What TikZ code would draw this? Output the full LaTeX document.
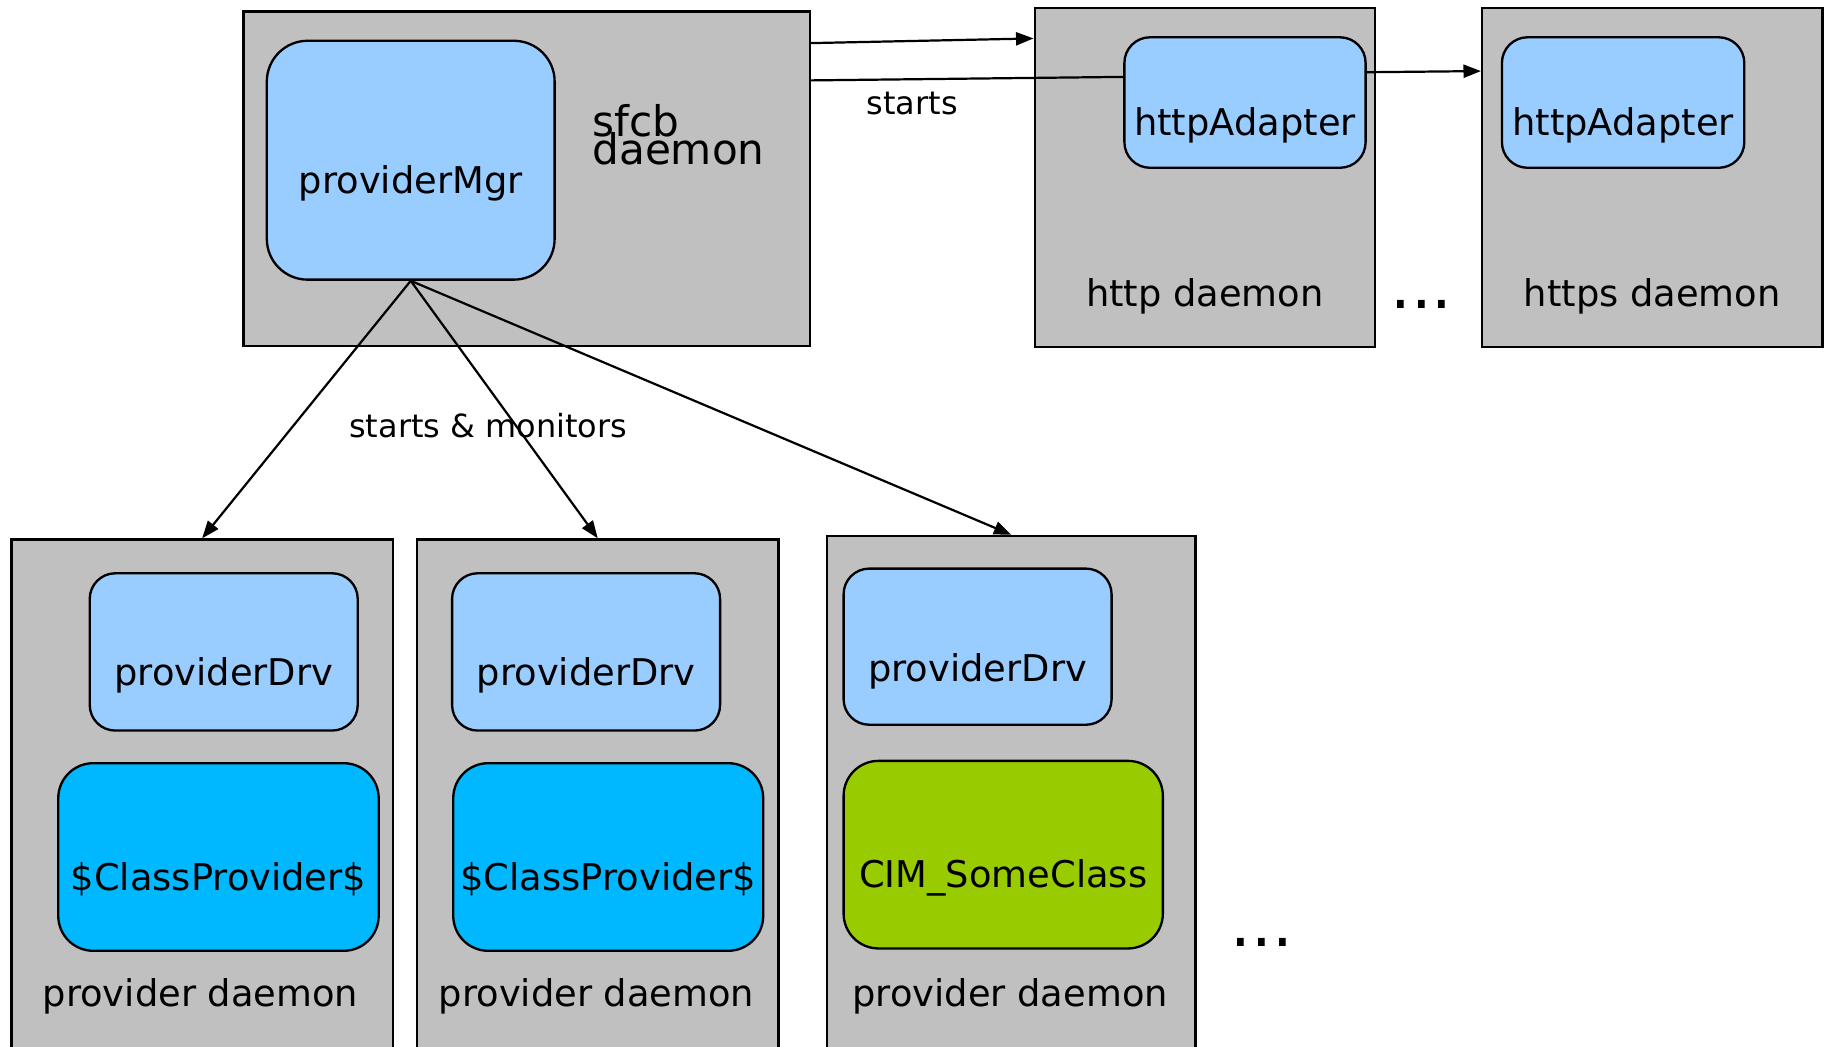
\documentclass[tikz,border=0pt]{standalone}
\usepackage{fontspec}
\setmainfont{DejaVu Sans}
\usetikzlibrary{arrows.meta,calc}

\definecolor{procgray}{HTML}{C0C0C0}
\definecolor{modblue}{HTML}{99CCFF}
\definecolor{provcyan}{HTML}{00B8FF}
\definecolor{provgreen}{HTML}{99CC00}

\tikzset{
  process/.style={draw=black, line width=1pt, fill=procgray, rectangle, inner sep=0pt},
  module/.style={draw=black, line width=1pt, rounded corners=11pt, inner sep=0pt},
  bigmodule/.style={module, rounded corners=17.5pt},
  midmodule/.style={module, rounded corners=15pt},
  lbl/.style={inner sep=0pt, font=\fontsize{15.8}{18}\selectfont},
  smalllbl/.style={inner sep=0pt, font=\fontsize{13.7}{16}\selectfont},
  titlelbl/.style={inner sep=0pt, anchor=base west, font=\fontsize{18.1}{20}\selectfont},
  dotslbl/.style={inner sep=0pt, font=\fontsize{28}{30}\selectfont},
  conn/.style={line width=0.95pt},
  arr/.style={conn, -{Triangle[length=7.5pt,width=5.6pt]}},
}

\begin{document}
\begin{tikzpicture}[x=0.5pt,y=-0.5pt]
  \useasboundingbox (0,0) rectangle (1568,898);
  \clip (0,0) rectangle (1568,898);

  % main daemon with the provider manager
  \node[process, minimum width=243pt, minimum height=143.5pt] (sfcb) at (452,153.5) {};
  \node[bigmodule, fill=modblue, minimum width=123.5pt, minimum height=102.5pt] (pm) at (352.5,137.5) {};
  \node[lbl] (pmtext) at (352.5,157) {providerMgr};
  \node[titlelbl] (sfcbtext) at (508,117) {sfcb};
  \node[titlelbl] (daemontext) at (508,141) {daemon};

  % http and https daemons
  \node[process, minimum width=146pt, minimum height=145.5pt] (http) at (1034,152.5) {};
  \node[module, fill=modblue, minimum width=103.5pt, minimum height=56pt] (ha1) at (1068.5,88) {};
  \node[lbl] (ha1text) at (1068.5,108) {httpAdapter};
  \node[lbl] (httptext) at (1034,254) {http daemon};

  \node[process, minimum width=146pt, minimum height=145.5pt] (https) at (1418,152.5) {};
  \node[module, fill=modblue, minimum width=104pt, minimum height=56pt] (ha2) at (1393,88) {};
  \node[lbl] (ha2text) at (1393,108) {httpAdapter};
  \node[lbl] (httpstext) at (1418,254) {https daemon};

  \node[dotslbl] (dotstop) at (1220,261) {...};

  % provider daemons
  \node[process, minimum width=163.5pt, minimum height=223.5pt] (p1) at (173.5,686.5) {};
  \node[module, fill=modblue, minimum width=115pt, minimum height=67.5pt] (d1) at (192,559.5) {};
  \node[lbl] (d1text) at (192,580) {providerDrv};
  \node[midmodule, fill=provcyan, minimum width=137.5pt, minimum height=80.5pt] (c1) at (187.5,735.5) {};
  \node[lbl] (c1text) at (187.5,755) {\$ClassProvider\$};
  \node[lbl] (p1text) at (172,855) {provider daemon};

  \node[process, minimum width=155pt, minimum height=223.5pt] (p2) at (513,686.5) {};
  \node[module, fill=modblue, minimum width=115pt, minimum height=67.5pt] (d2) at (503,559.5) {};
  \node[lbl] (d2text) at (503,580) {providerDrv};
  \node[midmodule, fill=provcyan, minimum width=133pt, minimum height=80.5pt] (c2) at (522,735.5) {};
  \node[lbl] (c2text) at (522,755) {\$ClassProvider\$};
  \node[lbl] (p2text) at (512,855) {provider daemon};

  \node[process, minimum width=158pt, minimum height=225pt] (p3) at (868,685) {};
  \node[module, fill=modblue, minimum width=115pt, minimum height=67pt] (d3) at (839,555) {};
  \node[lbl] (d3text) at (839,576) {providerDrv};
  \node[midmodule, fill=provgreen, minimum width=137pt, minimum height=80.5pt] (c3) at (861,733.5) {};
  \node[lbl] (c3text) at (861,753) {CIM\_SomeClass};
  \node[lbl] (p3text) at (867,855) {provider daemon};

  \node[dotslbl] (dotsbottom) at (1083,809) {...};

  % connector end points on the box borders
  \coordinate (s1) at ($(sfcb.north east)+(0,28)$);
  \coordinate (h1) at ($(http.north west)+(0,27)$);
  \coordinate (s2) at ($(sfcb.north east)+(0,60)$);
  \coordinate (a1) at ($(ha1.north west)+(0,35)$);
  \coordinate (a2) at ($(ha1.north east)+(0,31)$);
  \coordinate (h2) at ($(https.north west)+(0,55)$);

  % connectors
  \draw[arr] (s1) -- (h1);
  \draw[conn] (s2) -- (a1);
  \draw[arr] (a2) -- (h2);
  \node[smalllbl] (startstext) at (783,89) {starts};

  \draw[arr] (pm.south) -- (p1.north);
  \draw[arr] (pm.south) -- (p2.north);
  \draw[arr] (pm.south) -- (p3.north);
  \node[smalllbl] (monitortext) at (419,365) {starts \& monitors};
\end{tikzpicture}
\end{document}
